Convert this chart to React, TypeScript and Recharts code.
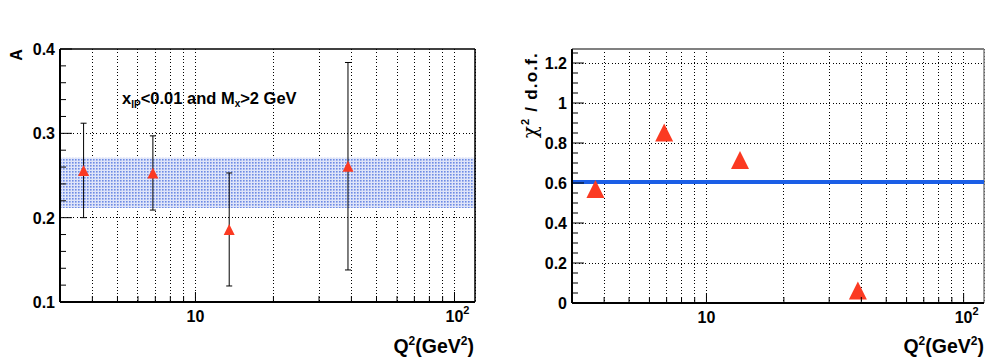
import React from "react"
import {
  ScatterChart,
  Scatter,
  XAxis,
  YAxis,
  CartesianGrid,
  ReferenceLine,
  ReferenceArea,
  ErrorBar,
} from "recharts"

// Q^2 bins (GeV^2)
const q2 = [3.7, 6.85, 13.5, 38.8]
// asymmetry A with its error
const asymA = [0.256, 0.253, 0.186, 0.261]
const asymErr = [0.056, 0.044, 0.067, 0.123]
// fitted band for A
const bandLow = 0.2115
const bandHigh = 0.271
// chi2 / dof per bin and mean
const chi2 = [0.57, 0.852, 0.715, 0.063]
const chi2Mean = 0.605

const xDomain = [3, 120]
const xTicks = [4, 5, 6, 7, 8, 9, 10, 20, 30, 40, 50, 60, 70, 80, 90, 100]
const xLabelTicks = [10, 100]

const leftYTicks = [0.1, 0.12, 0.14, 0.16, 0.18, 0.2, 0.22, 0.24, 0.26, 0.28, 0.3, 0.32, 0.34, 0.36, 0.38, 0.4]
const leftYMajor = [0.1, 0.2, 0.3, 0.4]
const leftYLabels = ["0.1", "0.2", "0.3", "0.4"]
const leftYGrid = [0.2, 0.3]

const rightYTicks = [0, 0.05, 0.1, 0.15, 0.2, 0.25, 0.3, 0.35, 0.4, 0.45, 0.5, 0.55, 0.6, 0.65, 0.7, 0.75, 0.8, 0.85, 0.9, 0.95, 1, 1.05, 1.1, 1.15, 1.2, 1.25]
const rightYMajor = [0, 0.2, 0.4, 0.6, 0.8, 1, 1.2]
const rightYLabels = ["0", "0.2", "0.4", "0.6", "0.8", "1", "1.2"]

const FONT = "'Liberation Sans', Arial, Helvetica, sans-serif"
const RED = "#fb3a22"
const DOTS = "1 2.3"

const leftData = q2.map((x, i) => ({ x, y: asymA[i], err: asymErr[i] }))
const rightData = q2.map((x, i) => ({ x, y: chi2[i] }))

const isIn = (v: number, list: number[]) => list.findIndex((m) => Math.abs(m - v) < 1e-6)

function triangle(size: number) {
  return (props: any) => {
    const { cx, cy } = props
    const h = size / 2
    return (
      <polygon
        points={`${cx},${cy - h} ${cx - h},${cy + h} ${cx + h},${cy + h}`}
        fill={RED}
      />
    )
  }
}

function XTick(props: any) {
  const { x, y, payload } = props
  const v = payload.value
  const major = isIn(v, xLabelTicks) >= 0
  return (
    <g>
      <line x1={x} x2={x} y1={y} y2={y - (major ? 10 : 6)} stroke="#000" />
      {v === 10 && (
        <text x={x} y={y + 20} textAnchor="middle" fontFamily={FONT} fontWeight="bold" fontSize={16}>
          10
        </text>
      )}
      {v === 100 && (
        <text x={x - 9} y={y + 20} fontFamily={FONT} fontWeight="bold" fontSize={16}>
          10
          <tspan dy={-8} fontSize={11}>2</tspan>
        </text>
      )}
    </g>
  )
}

function YTick(props: any) {
  const { x, y, payload, majors, labels } = props
  const idx = isIn(payload.value, majors)
  const major = idx >= 0
  return (
    <g>
      <line x1={x} x2={x + (major ? 12 : 6)} y1={y} y2={y} stroke="#000" />
      {major && (
        <text x={x - 5} y={y + 6} textAnchor="end" fontFamily={FONT} fontWeight="bold" fontSize={16}>
          {labels[idx]}
        </text>
      )}
    </g>
  )
}

function LeftPanel() {
  return (
    <ScatterChart width={500} height={360} margin={{ top: 49, right: 25, bottom: 0, left: 0 }}>
      <defs>
        <pattern id="bandDots" width={3} height={3} patternUnits="userSpaceOnUse">
          <rect width={3} height={3} fill="#dfe5f9" />
          <rect width={1.6} height={1.6} fill="#6d8be4" />
        </pattern>
      </defs>
      <XAxis
        dataKey="x"
        type="number"
        scale="log"
        domain={xDomain}
        ticks={xTicks}
        interval={0}
        allowDataOverflow
        height={58}
        tickSize={0}
        tickMargin={0}
        axisLine={{ stroke: "#000", strokeWidth: 2 }}
        tick={(p: any) => <XTick {...p} />}
      />
      <YAxis
        dataKey="y"
        type="number"
        domain={[0.1, 0.4]}
        ticks={leftYTicks}
        interval={0}
        width={60}
        tickSize={0}
        tickMargin={0}
        axisLine={{ stroke: "#000", strokeWidth: 2 }}
        tick={(p: any) => <YTick {...p} majors={leftYMajor} labels={leftYLabels} />}
      />
      <ReferenceArea y1={bandLow} y2={bandHigh} x1={xDomain[0]} x2={xDomain[1]} fill="url(#bandDots)" fillOpacity={1} stroke="none" />
      <CartesianGrid horizontal={false} stroke="#000" strokeDasharray={DOTS} shapeRendering="crispEdges" />
      {leftYGrid.map((v) => (
        <ReferenceLine key={v} y={v} stroke="#000" strokeDasharray={DOTS} shapeRendering="crispEdges" />
      ))}
      <ReferenceLine y={0.4} stroke="#000" strokeWidth={1.5} />
      <ReferenceLine x={xDomain[1]} stroke="#000" strokeWidth={1.5} />
      <Scatter data={leftData} shape={triangle(11)} isAnimationActive={false}>
        <ErrorBar dataKey="err" direction="y" width={3} stroke="#000" strokeWidth={1} />
      </Scatter>
    </ScatterChart>
  )
}

function RightPanel() {
  return (
    <ScatterChart width={491} height={360} margin={{ top: 49, right: 7, bottom: 0, left: 0 }}>
      <XAxis
        dataKey="x"
        type="number"
        scale="log"
        domain={xDomain}
        ticks={xTicks}
        interval={0}
        allowDataOverflow
        height={57}
        tickSize={0}
        tickMargin={0}
        axisLine={{ stroke: "#000", strokeWidth: 2 }}
        tick={(p: any) => <XTick {...p} />}
      />
      <YAxis
        dataKey="y"
        type="number"
        domain={[0, 1.27]}
        ticks={rightYTicks}
        interval={0}
        allowDataOverflow
        width={72}
        tickSize={0}
        tickMargin={0}
        axisLine={{ stroke: "#000", strokeWidth: 2 }}
        tick={(p: any) => <YTick {...p} majors={rightYMajor} labels={rightYLabels} />}
      />
      <CartesianGrid horizontal={false} stroke="#000" strokeDasharray={DOTS} shapeRendering="crispEdges" />
      {rightYMajor.slice(1).map((v) => (
        <ReferenceLine key={v} y={v} stroke="#000" strokeDasharray={DOTS} shapeRendering="crispEdges" />
      ))}
      <ReferenceLine y={1.27} stroke="#808080" strokeWidth={2} />
      <ReferenceLine x={xDomain[1]} stroke="#808080" strokeWidth={1.5} />
      <ReferenceLine y={chi2Mean} stroke="#1b5ee6" strokeWidth={4} />
      <Scatter data={rightData} shape={triangle(18)} isAnimationActive={false} />
    </ScatterChart>
  )
}

export default function App() {
  return (
    <div style={{ position: "absolute", left: 0, top: 0, width: 991, height: 360, background: "#fff" }}>
      <div style={{ position: "absolute", left: 0, top: 0 }}>
        <LeftPanel />
      </div>
      <div style={{ position: "absolute", left: 500, top: 0 }}>
        <RightPanel />
      </div>
      <svg
        width={991}
        height={360}
        style={{ position: "absolute", left: 0, top: 0, pointerEvents: "none" }}
        fontFamily={FONT}
        fontWeight="bold"
      >
        <text x={22} y={55} fontSize={16} textAnchor="middle" transform="rotate(-90 22 55)">
          A
        </text>
        <text x={122} y={104} fontSize={16.5}>
          x<tspan dy={4} fontSize={10}>IP</tspan>
          <tspan dy={-4}>{"<0.01 and M"}</tspan>
          <tspan dy={3} fontSize={10}>x</tspan>
          <tspan dy={-3}>{">2 GeV"}</tspan>
        </text>
        <text x={474} y={353} fontSize={19.5} textAnchor="end">
          Q<tspan dy={-8} fontSize={12}>2</tspan>
          <tspan dy={8}>(GeV</tspan>
          <tspan dy={-8} fontSize={12}>2</tspan>
          <tspan dy={8}>)</tspan>
        </text>
        <text x={984} y={353} fontSize={19.5} textAnchor="end">
          Q<tspan dy={-8} fontSize={12}>2</tspan>
          <tspan dy={8}>(GeV</tspan>
          <tspan dy={-8} fontSize={12}>2</tspan>
          <tspan dy={8}>)</tspan>
        </text>
        <text x={537} y={52} fontSize={17} letterSpacing={1.2} textAnchor="end" transform="rotate(-90 537 52)">
          <tspan fontWeight="normal" fontSize={20} fontFamily="'DejaVu Serif', serif">χ</tspan>
          <tspan dy={-8} fontSize={11}>2</tspan>
          <tspan dy={8}>{" / d.o.f."}</tspan>
        </text>
      </svg>
    </div>
  )
}
